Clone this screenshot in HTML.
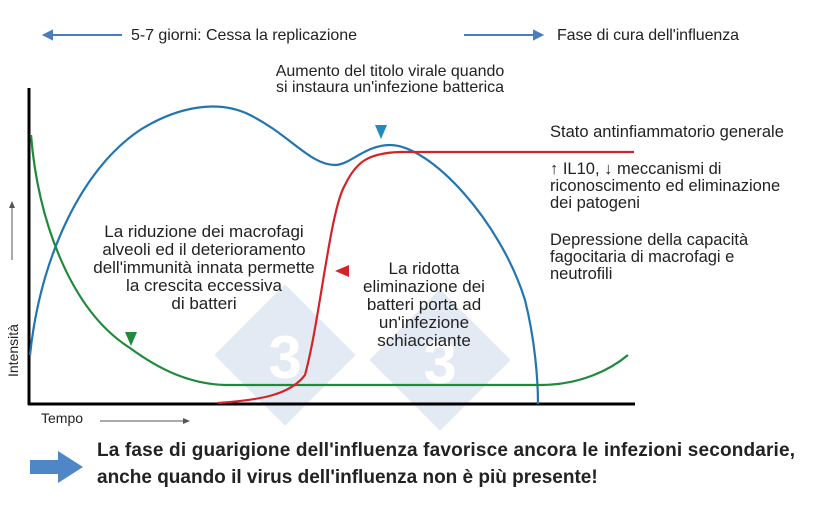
<!DOCTYPE html>
<html><head><meta charset="utf-8"><style>
body{margin:0;background:#fff;}
svg text{font-family:"Liberation Sans",Arial,sans-serif;fill:#222;}
</style></head><body>
<svg width="820" height="505" viewBox="0 0 820 505" xmlns="http://www.w3.org/2000/svg">
<g fill="#e3eaf3">
<rect x="235" y="305" width="100" height="100" transform="rotate(45 285 355)"/>
<rect x="390" y="310" width="100" height="100" transform="rotate(45 440 360)"/>
</g>
<g fill="#fff" font-size="60" font-weight="bold" text-anchor="middle">
<text x="285" y="378" style="fill:#fff">3</text>
<text x="440" y="383" style="fill:#fff">3</text>
</g>
<g stroke="#4a7ebb" stroke-width="2" fill="#4a7ebb">
<line x1="50" y1="35" x2="122" y2="35"/><polygon points="44,35 52,31 52,39"/>
<line x1="464" y1="35" x2="536" y2="35"/><polygon points="542,35 534,31 534,39"/>
</g>
<text x="131" y="40" font-size="16" textLength="226">5-7 giorni: Cessa la replicazione</text>
<text x="557" y="40" font-size="16" textLength="182">Fase di cura dell'influenza</text>
<text x="390" y="76" font-size="16" text-anchor="middle">Aumento del titolo virale quando</text>
<text x="390" y="92" font-size="16" text-anchor="middle">si instaura un'infezione batterica</text>
<g font-size="16.5">
<text x="550" y="137">Stato antinfiammatorio generale</text>
<text x="550" y="174">↑ IL10, ↓ meccanismi di</text>
<text x="550" y="191">riconoscimento ed eliminazione</text>
<text x="550" y="208">dei patogeni</text>
<text x="550" y="245">Depressione della capacità</text>
<text x="550" y="262">fagocitaria di macrofagi e</text>
<text x="550" y="279">neutrofili</text>
</g>
<g font-size="17" text-anchor="middle">
<text x="204" y="237">La riduzione dei macrofagi</text>
<text x="204" y="255">alveoli ed il deterioramento</text>
<text x="204" y="273">dell'immunità innata permette</text>
<text x="204" y="291">la crescita eccessiva</text>
<text x="204" y="309">di batteri</text>
<text x="424" y="274">La ridotta</text>
<text x="424" y="292">eliminazione dei</text>
<text x="424" y="310">batteri porta ad</text>
<text x="424" y="328">un'infezione</text>
<text x="424" y="346">schiacciante</text>
</g>
<line x1="29" y1="88" x2="29" y2="405" stroke="#000" stroke-width="3"/>
<line x1="28" y1="404" x2="635" y2="404" stroke="#000" stroke-width="3"/>
<line x1="12" y1="205" x2="12" y2="260" stroke="#555" stroke-width="1"/><polygon points="12,201 9,208 15,208" fill="#555"/>
<text x="18" y="377" font-size="14" transform="rotate(-90 18 377)">Intensità</text>
<text x="41" y="423" font-size="14">Tempo</text>
<line x1="100" y1="421" x2="185" y2="421" stroke="#555" stroke-width="1"/><polygon points="190,421 183,418 183,424" fill="#555"/>
<path d="M30,355 C40,260 80,170 140,130 C180,105 220,100 250,115 C290,135 310,165 335,165 C350,165 365,145 390,145 C430,145 500,220 525,300 C535,340 538,380 538,404" fill="none" stroke="#2275b0" stroke-width="2.2"/>
<path d="M31,135 C38,220 70,310 130,348 C160,370 190,384 225,385 L540,385 C580,385 610,370 628,355" fill="none" stroke="#1f8a3c" stroke-width="2.2"/>
<path d="M218,403 C260,400 290,395 305,375 C320,320 330,210 345,185 C356,162 368,153 400,152 L634,152" fill="none" stroke="#d42328" stroke-width="2.2"/>
<polygon points="375,125 387,125 381,139" fill="#1e8bc3"/>
<polygon points="125,332 137,332 131,346" fill="#1f8a3c"/>
<polygon points="335,271 349,265 349,277" fill="#d42328"/>
<polygon points="30,460 58,460 58,451 83,467 58,483 58,474 30,474" fill="#4f87c6"/>
<text x="97" y="456" font-size="19" font-weight="bold" fill="#111" textLength="698">La fase di guarigione dell'influenza favorisce ancora le infezioni secondarie,</text>
<text x="97" y="483" font-size="19" font-weight="bold" fill="#111">anche quando il virus dell'influenza non è più presente!</text>
</svg>
</body></html>
